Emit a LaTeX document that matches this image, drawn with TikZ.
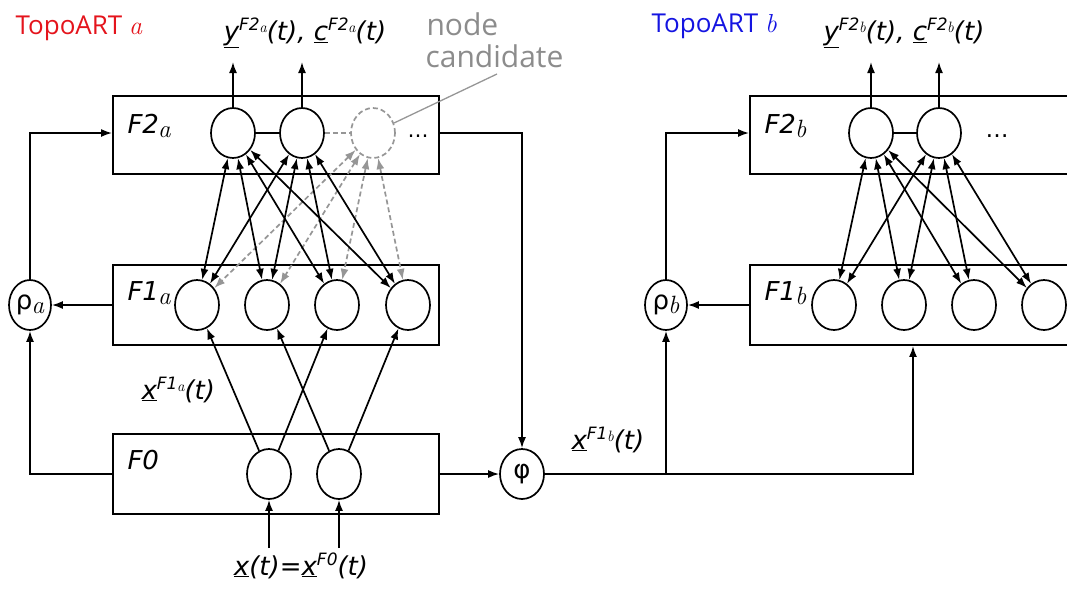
\documentclass[tikz,border=0pt]{standalone}
\usepackage{fontspec}
\setmainfont{DejaVu Sans}
\newfontfamily\opensans{Open Sans}
\newfontfamily\lmr{Latin Modern Roman}
\usetikzlibrary{shapes.geometric,arrows.meta}
\definecolor{tred}{RGB}{228,20,28}
\definecolor{tblue}{RGB}{20,20,225}
\definecolor{cgray}{RGB}{150,150,150}
\definecolor{tgray}{RGB}{140,140,140}
\newcommand{\mi}[1]{{\lmr\itshape #1}}
% big subscript (labels) and small subscript (inside superscripts)
\newcommand{\lsub}[1]{\kern-1pt\raisebox{-4pt}{\lmr\itshape\fontsize{25}{25}\selectfont #1}}
\newcommand{\ssub}[1]{\kern-0.5pt\raisebox{-2.5pt}{\lmr\itshape\fontsize{15}{15}\selectfont #1}}
\newcommand{\lsup}[1]{\raisebox{10pt}{\itshape\fontsize{17}{17}\selectfont #1}}
\begin{document}
\begin{tikzpicture}[x=1pt,y=-1pt,
  every node/.style={font=\fontsize{26}{30}\selectfont},
  layer/.style={draw, line width=1.9pt, inner sep=0pt, rectangle, minimum width=326pt},
  unit/.style={draw, ellipse, line width=1.7pt, minimum width=44pt, minimum height=50pt, inner sep=0pt},
  cand/.style={unit, draw=cgray, dash pattern=on 5pt off 3pt},
  link/.style={line width=1.7pt},
  arr/.style={link, -{Latex[length=11pt,width=8pt]}},
  barr/.style={link, {Latex[length=11pt,width=8pt]}-{Latex[length=11pt,width=8pt]}},
  garr/.style={barr, draw=cgray, dash pattern=on 5pt off 3pt},
  lbl/.style={anchor=base west, font=\fontsize{26}{30}\selectfont\itshape},
]
\useasboundingbox (0,0) rectangle (1067,590);
\clip (0,0) rectangle (1067,590);

% layer boxes
\node[layer, minimum height=78pt] (F2a) at (276,135) {};
\node[layer, minimum height=80pt] (F1a) at (276,305) {};
\node[layer, minimum height=80pt] (F0)  at (276,474) {};
\node[layer, minimum height=78pt] (F2b) at (913,135) {};
\node[layer, minimum height=80pt] (F1b) at (913,305) {};

% layer labels
\node[lbl] (lF2a) at (124,133) {F2\lsub{a}};
\node[lbl] (lF1a) at (124,300) {F1\lsub{a}};
\node[lbl] (lF0)  at (124,469) {F0};
\node[lbl] (lF2b) at (761,133) {F2\lsub{b}};
\node[lbl] (lF1b) at (761,300) {F1\lsub{b}};

% units
\node[unit] (a21) at (233,133) {};
\node[unit] (a22) at (302,133) {};
\node[cand] (ac)  at (373,133) {};
\node[anchor=base, font=\fontsize{21}{21}\selectfont] (da) at (418,137) {…};
\node[unit] (a11) at (197,305) {};
\node[unit] (a12) at (267,305) {};
\node[unit] (a13) at (337,305) {};
\node[unit] (a14) at (408,305) {};
\node[unit] (z1) at (269,474) {};
\node[unit] (z2) at (339,474) {};
\node[unit] (b21) at (871,133) {};
\node[unit] (b22) at (939,133) {};
\node[anchor=base, font=\fontsize{23}{23}\selectfont] (db) at (997,137) {…};
\node[unit] (b11) at (834,305) {};
\node[unit] (b12) at (904,305) {};
\node[unit] (b13) at (974,305) {};
\node[unit] (b14) at (1044,305) {};
\node[unit, minimum width=42pt] (rhoa) at (30,305) {ρ\lsub{a}};
\node[unit, minimum width=42pt] (rhob) at (666,305) {ρ\lsub{b}};
\node[unit] (phi) at (522,474) {φ};

% lateral links
\draw[link] (a21) -- (a22);
\draw[link, cgray, dash pattern=on 5pt off 3pt] (a22) -- (ac);
\draw[link] (b21) -- (b22);

% F1 <-> F2 links
\foreach \f in {a11,a12,a13,a14} {
  \draw[garr] (ac) -- (\f);
}
\foreach \t in {a21,a22} {
  \foreach \f in {a11,a12,a13,a14} {
    \draw[barr] (\t) -- (\f);
  }
}
\foreach \t in {b21,b22} {
  \foreach \f in {b11,b12,b13,b14} {
    \draw[barr] (\t) -- (\f);
  }
}

% F0 -> F1a
\draw[arr] (z1) -- (a11);
\draw[arr] (z1) -- (a13);
\draw[arr] (z2) -- (a12);
\draw[arr] (z2) -- (a14);

% inputs
\coordinate (in1) at (269,548);
\coordinate (in2) at (339,548);
\draw[arr] (in1) -- (z1);
\draw[arr] (in2) -- (z2);

% outputs
\coordinate (oa1) at (233,62);
\coordinate (oa2) at (302,62);
\coordinate (ob1) at (871,62);
\coordinate (ob2) at (939,62);
\draw[arr] (a21) -- (oa1);
\draw[arr] (a22) -- (oa2);
\draw[arr] (b21) -- (ob1);
\draw[arr] (b22) -- (ob2);

% candidate pointer
\coordinate (cp) at (497,74);
\draw[cgray, line width=1.3pt] (ac) -- (cp);

% feedback / control paths
\draw[arr] (F1a.west) -- (rhoa);
\draw[arr] (F0.west) -| (rhoa);
\draw[arr] (rhoa) |- (F2a.west |- a21);
\draw[arr] (F2a.east |- a21) -| (phi);
\draw[arr] (F0.east) -- (phi);
\draw[arr] (phi) -| (F1b.south);
\draw[arr] (rhob |- phi) -- (rhob);
\draw[arr] (rhob) |- (F2b.west |- b21);
\draw[arr] (F1b.west) -- (rhob);

% texts
\node[anchor=base west, text=tred, font=\opensans\fontsize{26}{30}\selectfont] (ta) at (12,34) {TopoART \mi{a}};
\node[anchor=base west, text=tblue, font=\opensans\fontsize{26}{30}\selectfont] (tb) at (648,32) {TopoART \mi{b}};
\node[anchor=base, font=\fontsize{26}{30}\selectfont\itshape] (ya) at (305,40) {\underline{y}\lsup{F2\ssub{a}}(t), \underline{c}\lsup{F2\ssub{a}}(t)};
\node[anchor=base, font=\fontsize{26}{30}\selectfont\itshape] (yb) at (904,40) {\underline{y}\lsup{F2\ssub{b}}(t), \underline{c}\lsup{F2\ssub{b}}(t)};
\node[anchor=base west, text=tgray, font=\opensans\fontsize{30}{32}\selectfont] (nc1) at (423,35) {node};
\node[anchor=base west, text=tgray, font=\opensans\fontsize{30}{32}\selectfont] (nc2) at (422,67) {candidate};
\node[lbl] (xa) at (138,399) {\underline{x}\lsup{F1\ssub{a}}(t)};
\node[lbl] (xb) at (568,449) {\underline{x}\lsup{F1\ssub{b}}(t)};
\node[anchor=base, font=\fontsize{26}{30}\selectfont\itshape] (xin) at (301,575) {\underline{x}(t)=\underline{x}\lsup{F0}(t)};
\end{tikzpicture}
\end{document}
